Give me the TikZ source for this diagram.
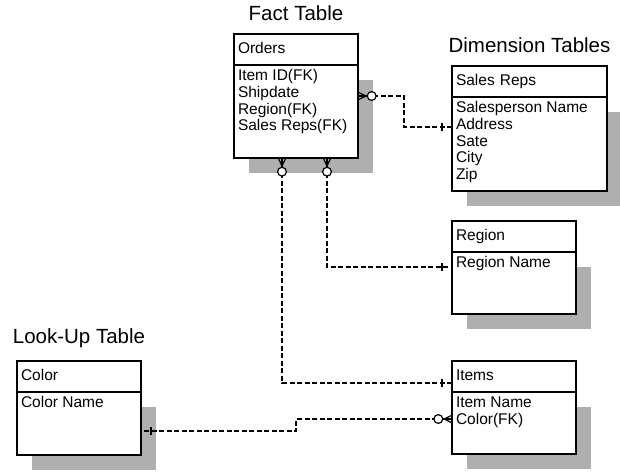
\documentclass[tikz,border=0pt]{standalone}
\usepackage{fontspec}
\setmainfont{Liberation Sans}
\usepackage{tikz}
\usetikzlibrary{positioning, shadows, decorations.markings}
\definecolor{shadowgray}{HTML}{AFAFAF}
\newcommand{\tablefont}{\fontsize{15.5}{16.7}\selectfont}
\newcommand{\fieldbox}[3]{\parbox[b][#2][t]{#1}{\strut#3}}
\tikzset{
    tablehead/.style={rectangle, draw=black, line width=1.3pt, outer sep=0pt, fill=white, anchor=north west, text width=#1, inner xsep=4pt, minimum height=31pt, align=left, text height=11pt, text depth=3pt, font=\tablefont},
    tablebody/.style={rectangle, draw=black, line width=1.3pt, outer sep=0pt, fill=white, inner xsep=4pt, inner ysep=4pt, font=\tablefont, drop shadow={shadow xshift=15pt, shadow yshift=-15pt, fill=shadowgray, opacity=1}},
    heading/.style={inner sep=0pt, font=\fontsize{20.5}{24}\selectfont},
    relline/.style={line width=2.1pt, dash pattern=on 5pt off 2.5pt},
    manystart/.style={postaction={decorate, decoration={markings, mark=at position 0pt with {
        \draw[solid, line width=1.2pt] (0pt,3.8pt) -- (8pt,0pt) -- (0pt,-3.8pt) (0pt,0pt) -- (8pt,0pt);
        \draw[solid, line width=1.2pt, fill=white] (13.7pt,0pt) circle (4.4pt);}}}},
    oneend/.style={postaction={decorate, decoration={markings, mark=at position -10pt with {
        \draw[solid, line width=1.2pt] (0pt,-3.8pt) -- (0pt,3.8pt);}}}}
}
\begin{document}
\begin{tikzpicture}[x=1pt, y=1pt]
    \useasboundingbox (0,0) rectangle (620,-471);
    % fact table
    \node[tablehead=116pt] (orders) at (234,-34) {Orders};
    \node[tablebody, below=0pt of orders] (ordersb) {\fieldbox{116pt}{85pt}{Item ID(FK)\\Shipdate\\Region(FK)\\Sales Reps(FK)}};
    \node[heading, above=13.5pt of orders] (facttitle) {Fact Table};
    % dimension tables
    \node[tablehead=147pt] (reps) at (452,-66) {Sales Reps};
    \node[tablebody, below=0pt of reps] (repsb) {\fieldbox{147pt}{86pt}{Salesperson Name\\Address\\Sate\\City\\Zip}};
    \node[heading, above=13.5pt of reps] (dimtitle) {Dimension Tables};
    \node[tablehead=116pt] (region) at (452,-221) {Region};
    \node[tablebody, below=0pt of region] (regionb) {\fieldbox{116pt}{54pt}{Region Name}};
    \node[tablehead=116pt] (items) at (452,-361) {Items};
    \node[tablebody, below=0pt of items] (itemsb) {\fieldbox{116pt}{54pt}{Item Name\\Color(FK)}};
    % look-up table
    \node[tablehead=116pt] (color) at (17,-361) {Color};
    \node[tablebody, below=0pt of color] (colorb) {\fieldbox{116pt}{55pt}{Color Name}};
    \node[heading, above=13.5pt of color] (looktitle) {Look-Up Table};
    % relations
    \draw[relline, manystart, oneend] ([yshift=15.5pt]ordersb.east) -- ++(46pt,0pt) |- ([yshift=17pt]repsb.west);
    \draw[relline, manystart, oneend] ([xshift=31pt]ordersb.south) |- ([yshift=16pt]regionb.west);
    \draw[relline, manystart, oneend] ([xshift=-14pt]ordersb.south) |- ([yshift=-6.5pt]items.west);
    \draw[relline, manystart, oneend] ([yshift=4pt]itemsb.west) -- ++(-156pt,0pt) |- ([yshift=-7.5pt]colorb.east);
\end{tikzpicture}
\end{document}
